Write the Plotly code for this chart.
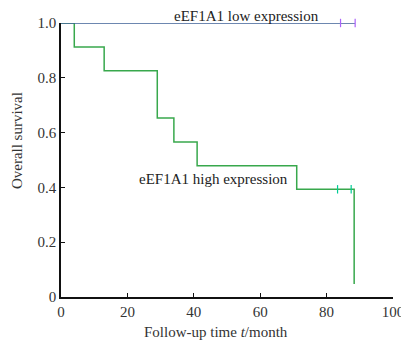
import plotly.graph_objects as go

# Kaplan-Meier step data
high_time = [0, 4, 13, 29, 34, 41, 71, 88.3, 88.3]
high_surv = [1.0, 0.912, 0.826, 0.653, 0.566, 0.479, 0.393, 0.393, 0.047]
high_cens_t = [83.3, 87.4]
high_cens_s = [0.393, 0.393]

low_time = [0, 88.6]
low_surv = [1.0, 1.0]
low_cens_t = [84.2, 88.6]
low_cens_s = [1.0, 1.0]

x_ticks = [0, 20, 40, 60, 80, 100]
y_ticks = [0, 0.2, 0.4, 0.6, 0.8, 1.0]
y_tick_labels = ["0", "0.2", "0.4", "0.6", "0.8", "1.0"]

green = "#38a84c"
blue = "#3d5f96"
font_family = "Times New Roman"
txt = "#333333"

fig = go.Figure()
fig.add_trace(go.Scatter(x=high_time, y=high_surv, mode="lines",
                         line=dict(color=green, width=1.5, shape="hv"),
                         showlegend=False, cliponaxis=False))
fig.add_trace(go.Scatter(x=low_time, y=low_surv, mode="lines",
                         line=dict(color=blue, width=1.5, shape="hv"),
                         showlegend=False, cliponaxis=False))
fig.add_trace(go.Scatter(x=high_cens_t, y=high_cens_s, mode="markers",
                         marker=dict(symbol="line-ns-open", size=6,
                                     line=dict(color=green, width=1.2)),
                         showlegend=False, cliponaxis=False))
fig.add_trace(go.Scatter(x=low_cens_t, y=low_cens_s, mode="markers",
                         marker=dict(symbol="line-ns-open", size=6,
                                     line=dict(color=blue, width=1.2)),
                         showlegend=False, cliponaxis=False))

fig.add_annotation(x=56.0, y=1.0, text="eEF1A1 low expression", showarrow=False,
                   xanchor="center", yanchor="bottom", yshift=-3,
                   font=dict(family=font_family, size=15, color="#222"))
fig.add_annotation(x=46.0, y=0.43, text="eEF1A1 high expression", showarrow=False,
                   xanchor="center", yanchor="middle",
                   font=dict(family=font_family, size=15, color="#222"))

# axis titles
fig.add_annotation(xref="paper", yref="paper", x=-0.1325, y=0.569,
                   text="Overall survival", textangle=-90, showarrow=False,
                   xanchor="center", yanchor="middle",
                   font=dict(family=font_family, size=15, color=txt))
fig.add_annotation(xref="paper", yref="paper", x=0.467, y=-0.128,
                   text="Follow-up time <i>t</i>/month", showarrow=False,
                   xanchor="center", yanchor="middle",
                   font=dict(family=font_family, size=15, color=txt))

axis_common = dict(showline=True, linecolor="#111", linewidth=1.5, ticks="inside",
                   ticklen=4, tickcolor="#111", tickwidth=1.2, showgrid=False,
                   zeroline=False, automargin=False,
                   tickfont=dict(family=font_family, size=15, color=txt))

fig.update_xaxes(range=[0, 100], tickvals=x_ticks, **axis_common)
fig.update_yaxes(range=[0, 1.0], tickvals=y_ticks, ticktext=y_tick_labels, **axis_common)

# page body has an 8px margin, so the figure is sized to fit the window
fig.update_layout(width=401, height=334, margin=dict(l=53, r=16, t=15, b=45),
                  paper_bgcolor="white", plot_bgcolor="white")

fig.write_html("out.html")
